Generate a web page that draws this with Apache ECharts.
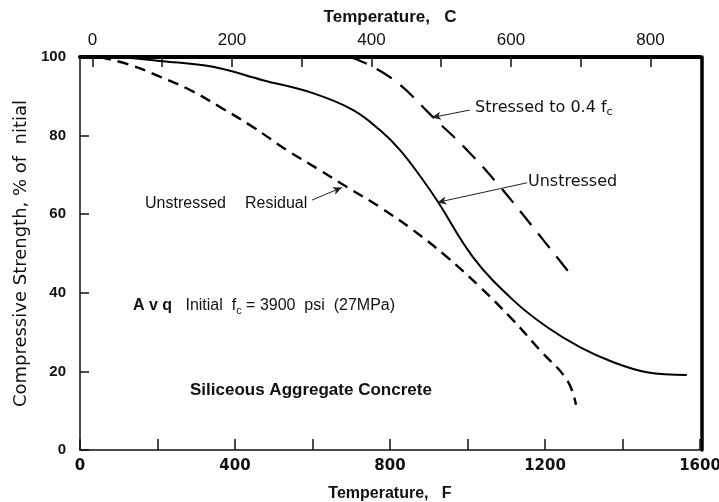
<!DOCTYPE html>
<html>
<head>
<meta charset="utf-8">
<style>
html, body { margin: 0; padding: 0; background: #fff; }
#chart { width: 719px; height: 502px; }
</style>
<script src="https://cdn.jsdelivr.net/npm/echarts@6/dist/echarts.min.js"></script>
</head>
<body>
<div id="chart"></div>
<script>
/**
 * data (x in deg F, y in % of initial strength)
 * **/
var residualF = [52, 129, 206, 284, 361, 446, 534, 619, 689, 774, 859, 947, 1032, 1117, 1187, 1257, 1280];
var residualPct = [100, 98, 95, 91.6, 87.3, 82.2, 76.3, 71.2, 66.9, 61.8, 56, 49.1, 41.5, 33.1, 25.4, 17.8, 11.5];
var unstressedF = [100, 206, 343, 472, 601, 705, 774, 826, 885, 924, 1014, 1117, 1205, 1290, 1375, 1463, 1566];
var unstressedPct = [100, 99, 97.5, 94.1, 90.8, 86.5, 81.4, 76.3, 68.7, 63.1, 49.1, 38.2, 31.3, 26.2, 22.4, 19.8, 19.1];
var stressedF = [697, 756, 826, 911, 999, 1076, 1169, 1265];
var stressedPct = [100, 97.5, 92.9, 84.7, 76.3, 67.9, 56.7, 44.8];

var fahrenheitLabels = [0, 400, 800, 1200, 1600];
var celsiusTicks = [0, 100, 200, 300, 400, 500, 600, 700, 800];
var celsiusLabels = [0, 200, 400, 600, 800];

function pairs(xs, ys) {
	var out = [];
	for (var i = 0; i < xs.length; i++) out.push([xs[i], ys[i]]);
	return out;
}

// top axis: a fine Fahrenheit grid (4 F steps) so Celsius ticks land on exact slots
var topSlots = [];
for (var s = 0; s <= 1600; s += 4) topSlots.push(String(s));
function toC(f) { return Math.round((Number(f) - 32) / 1.8); }
function isCelsius(list, f) {
	var c = (Number(f) - 32) / 1.8;
	return Math.abs(c - Math.round(c)) < 1e-6 && list.indexOf(Math.round(c)) >= 0;
}

var font = 'Liberation Sans, Arial, sans-serif';
var wide = 'DejaVu Sans, sans-serif';
var myChart = echarts.init(document.getElementById('chart'));

function arrow(from, to) {
	return {
		silent: true,
		symbol: ['none', 'arrow'],
		symbolSize: [6, 9],
		label: { show: false },
		lineStyle: { type: 'solid', color: '#222', width: 1, curveness: 0.08 },
		data: [[{ coord: from }, { coord: to }]]
	};
}

var option = {
	animation: false,
	backgroundColor: '#fff',
	grid: { left: 80, right: 19, top: 57, bottom: 52, outerBoundsMode: 'none', containLabel: false },
	xAxis: [{
		type: 'value',
		min: 0,
		max: 1600,
		interval: 200,
		name: 'Temperature,   F',
		nameLocation: 'middle',
		nameGap: 36,
		nameTextStyle: { fontFamily: font, fontSize: 16, fontWeight: 'bold', color: '#111' },
		splitLine: { show: false },
		axisLine: { onZero: false, lineStyle: { color: '#111', width: 1.5 } },
		axisTick: { inside: true, length: 11, lineStyle: { color: '#111', width: 1.5 } },
		axisLabel: {
			margin: 9,
			fontFamily: wide,
			fontSize: 15,
			fontWeight: 'bold',
			color: '#111',
			formatter: function(v) {
				return fahrenheitLabels.indexOf(v) >= 0 ? String(v) : '';
			}
		}
	}, {
		type: 'category',
		position: 'top',
		boundaryGap: false,
		data: topSlots,
		name: 'Temperature,   C',
		nameLocation: 'middle',
		nameGap: 31,
		nameTextStyle: { fontFamily: font, fontSize: 17, fontWeight: 'bold', color: '#111' },
		splitLine: { show: false },
		axisLine: { onZero: false, lineStyle: { color: '#000', width: 4 } },
		axisTick: {
			show: true,
			inside: true,
			length: 10,
			interval: function(i, v) { return isCelsius(celsiusTicks, v); },
			lineStyle: { color: '#111', width: 1.5 }
		},
		axisLabel: {
			margin: 8,
			fontFamily: font,
			fontSize: 17,
			color: '#111',
			interval: function(i, v) { return isCelsius(celsiusLabels, v); },
			formatter: function(v) { return String(toC(v)); }
		}
	}],
	yAxis: [{
		type: 'value',
		min: 0,
		max: 100,
		interval: 20,
		name: 'Compressive Strength, % of  nitial',
		nameLocation: 'middle',
		nameGap: 50,
		nameTextStyle: { fontFamily: wide, fontSize: 18, color: '#111' },
		splitLine: { show: false },
		axisLine: { onZero: false, lineStyle: { color: '#111', width: 1.5 } },
		axisTick: { inside: true, length: 9, lineStyle: { color: '#111', width: 1.5 } },
		axisLabel: { margin: 14, fontFamily: font, fontSize: 15, fontWeight: 'bold', color: '#111' }
	}, {
		type: 'value',
		position: 'right',
		min: 0,
		max: 100,
		offset: 2,
		splitLine: { show: false },
		axisLine: { show: true, onZero: false, lineStyle: { color: '#000', width: 3.5 } },
		axisTick: { show: false },
		axisLabel: { show: false }
	}],
	series: [{
		name: 'Unstressed Residual',
		type: 'line',
		smooth: 0.4,
		symbol: 'none',
		data: pairs(residualF, residualPct),
		lineStyle: { color: '#000', width: 2.4, type: [11, 7] },
		markLine: arrow([599, 63.6], [676, 66.8])
	}, {
		name: 'Unstressed',
		type: 'line',
		smooth: 0.4,
		symbol: 'none',
		data: pairs(unstressedF, unstressedPct),
		lineStyle: { color: '#000', width: 2 },
		markLine: arrow([1154, 68], [922, 63])
	}, {
		name: 'Stressed to 0.4 fc',
		type: 'line',
		smooth: 0.4,
		symbol: 'none',
		data: pairs(stressedF, stressedPct),
		lineStyle: { color: '#000', width: 2.2, type: [18, 11] },
		markLine: arrow([1006, 86.5], [908, 84.6])
	}],
	graphic: [{
		type: 'text',
		left: 475,
		top: 100,
		style: {
			text: 'Stressed to 0.4 f{c|c}',
			rich: { c: { fontSize: 11, padding: [9, 0, 0, 0], fontFamily: wide, fill: '#111' } },
			font: '16px ' + wide,
			fill: '#111'
		}
	}, {
		type: 'text',
		left: 528,
		top: 174,
		style: { text: 'Unstressed', font: '16px ' + wide, fill: '#111' }
	}, {
		type: 'text',
		left: 145,
		top: 196,
		style: { text: 'Unstressed', font: '16px ' + font, fill: '#111' }
	}, {
		type: 'text',
		left: 245,
		top: 196,
		style: { text: 'Residual', font: '16px ' + font, fill: '#111' }
	}, {
		type: 'text',
		left: 133,
		top: 298,
		style: {
			text: '{a|A v q}   Initial  f{c|c} = 3900  psi  (27MPa)',
			rich: {
				a: { fontSize: 16, fontWeight: 'bold', fontFamily: font, fill: '#111' },
				c: { fontSize: 11, padding: [9, 0, 0, 0], fontFamily: font, fill: '#111' }
			},
			font: '16px ' + font,
			fill: '#111'
		}
	}, {
		type: 'text',
		left: 190,
		top: 382,
		style: { text: 'Siliceous Aggregate Concrete', font: 'bold 17px ' + font, fill: '#111' }
	}]
};
myChart.setOption(option);
</script>
</body>
</html>
